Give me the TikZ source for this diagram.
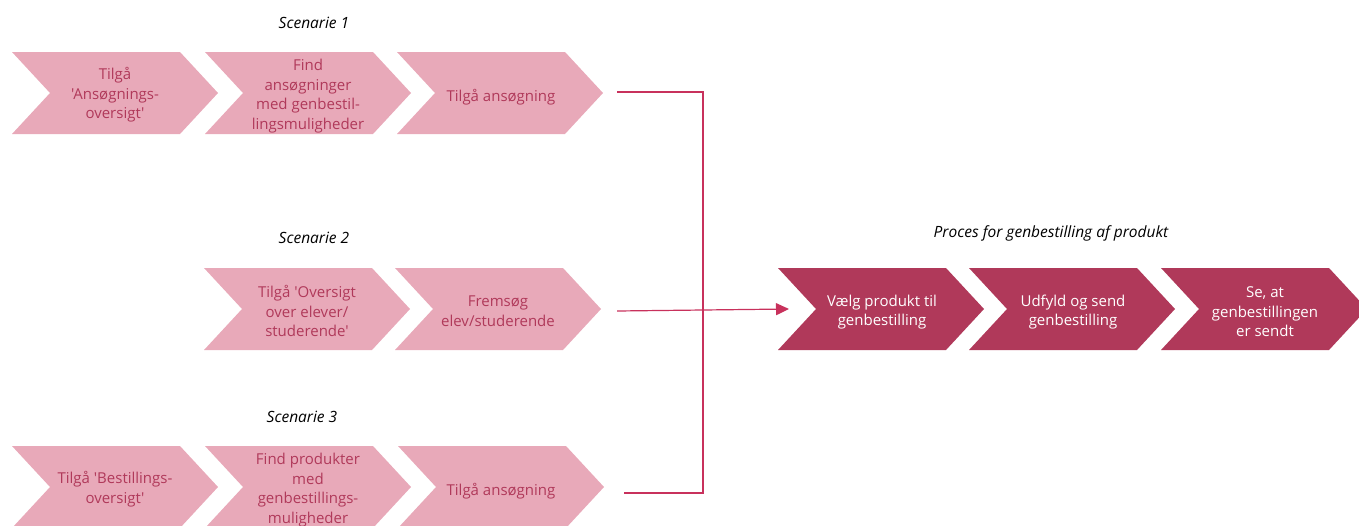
\documentclass[tikz,border=0pt]{standalone}
\usepackage{fontspec}
\setmainfont{Open Sans}[Ligatures=TeXOff]
\usetikzlibrary{arrows.meta}
\definecolor{lightp}{HTML}{E8A9B9}
\definecolor{darkp}{HTML}{B0395A}
\definecolor{linep}{HTML}{C8315C}
\definecolor{txtp}{HTML}{B0395A}
\newcommand\sq{\char"27\relax}
\tikzset{
  lightchev/.style={fill=lightp},
  darkchev/.style={fill=darkp},
  lighttxt/.style={text=txtp, align=center, font=\fontsize{15}{19.5}\selectfont, inner sep=0pt},
  darktxt/.style={text=white, align=center, font=\fontsize{15}{19.5}\selectfont, inner sep=0pt},
  caption/.style={font=\fontsize{15.5}{18}\selectfont\itshape, inner sep=0pt},
  conn/.style={draw=linep, line width=1.2pt},
}
\newcommand\chev[5]{%
  \fill[#4] (#2,#3) -- ++(168,0) -- ++(38,41) -- ++(-38,41) -- ++(-168,0) -- ++(38,-41) -- cycle;
}
\begin{document}
\begin{tikzpicture}[x=1pt,y=-1pt]
\clip (0,0) rectangle (1359,525);
% Scenario 1
\node[caption] (cap1) at (314,23) {Scenarie 1};
\chev{a1}{12}{52}{lightchev}{}
\node[lighttxt] (a1) at (115,95) {Tilgå\\\sq Ansøgnings-\\oversigt\sq};
\chev{a2}{205}{52}{lightchev}{}
\node[lighttxt] (a2) at (308,96) {Find\\ansøgninger\\med genbestil-\\lingsmuligheder};
\chev{a3}{397}{52}{lightchev}{}
\node[lighttxt] (a3) at (501,97) {Tilgå ansøgning};
% Scenario 2
\node[caption] (cap2) at (314,238) {Scenarie 2};
\chev{b1}{204}{268}{lightchev}{}
\node[lighttxt] (b1) at (307,311) {Tilgå \sq Oversigt\\over elever/\\studerende\sq};
\chev{b2}{395}{268}{lightchev}{}
\node[lighttxt] (b2) at (498,311) {Fremsøg\\elev/studerende};
% Scenario 3
\node[caption] (cap3) at (302,417) {Scenarie 3};
\chev{c1}{12}{446}{lightchev}{}
\node[lighttxt] (c1) at (115,489) {Tilgå \sq Bestillings-\\oversigt\sq};
\chev{c2}{205}{446}{lightchev}{}
\node[lighttxt] (c2) at (308,490) {Find produkter\\med\\genbestillings-\\muligheder};
\chev{c3}{398}{446}{lightchev}{}
\node[lighttxt] (c3) at (501,491) {Tilgå ansøgning};
% Process
\node[caption] (cap4) at (1051,233) {Proces for genbestilling af produkt};
\chev{p1}{778}{268}{darkchev}{}
\node[darktxt] (p1) at (882,312) {Vælg produkt til\\genbestilling};
\chev{p2}{969}{268}{darkchev}{}
\node[darktxt] (p2) at (1073,312) {Udfyld og send\\genbestilling};
\chev{p3}{1161}{268}{darkchev}{}
\node[darktxt] (p3) at (1265,312) {Se, at\\genbestillingen\\er sendt};
% connectors
\coordinate (s1e) at (617,92);
\coordinate (s2e) at (617,311);
\coordinate (s3e) at (624,493);
\coordinate (jt) at (703,92);
\coordinate (jb) at (703,493);
\coordinate (p1w) at (789,309);
\draw[conn] (s1e) -- (jt) -- (jb) -- (s3e);
\draw[conn, -{Triangle[length=13pt,width=12pt]}] (s2e) -- (p1w);
\end{tikzpicture}
\end{document}
